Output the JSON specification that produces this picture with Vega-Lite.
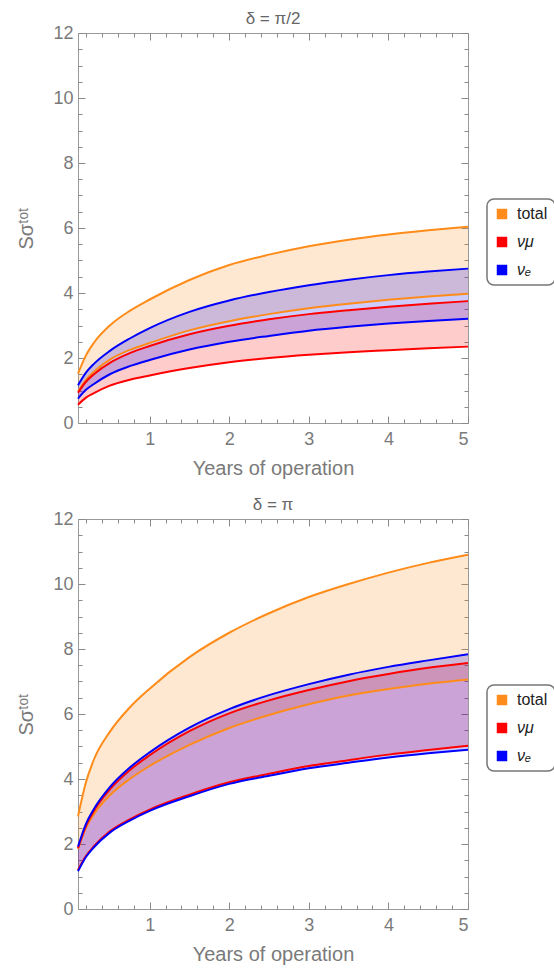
{
"$schema": "https://vega.github.io/schema/vega-lite/v6.json",
"padding": {"left": 16, "top": 9, "right": 0, "bottom": 0},
"background": "white",
"datasets": {"d": [
{"p":"a","s":"total","t":0.1,"lo":0.97,"hi":1.52},{"p":"a","s":"total","t":0.2,"lo":1.33,"hi":2.08},{"p":"a","s":"total","t":0.3,"lo":1.58,"hi":2.47},{"p":"a","s":"total","t":0.5,"lo":1.95,"hi":3.0},{"p":"a","s":"total","t":0.75,"lo":2.25,"hi":3.45},{"p":"a","s":"total","t":1,"lo":2.46,"hi":3.8},{"p":"a","s":"total","t":1.5,"lo":2.85,"hi":4.4},{"p":"a","s":"total","t":2,"lo":3.13,"hi":4.86},{"p":"a","s":"total","t":2.5,"lo":3.35,"hi":5.18},{"p":"a","s":"total","t":3,"lo":3.53,"hi":5.44},{"p":"a","s":"total","t":3.5,"lo":3.67,"hi":5.64},{"p":"a","s":"total","t":4,"lo":3.79,"hi":5.8},{"p":"a","s":"total","t":4.5,"lo":3.89,"hi":5.93},{"p":"a","s":"total","t":5,"lo":3.98,"hi":6.04},
{"p":"a","s":"νμ","t":0.1,"lo":0.56,"hi":0.93},{"p":"a","s":"νμ","t":0.2,"lo":0.78,"hi":1.27},{"p":"a","s":"νμ","t":0.3,"lo":0.92,"hi":1.5},{"p":"a","s":"νμ","t":0.5,"lo":1.15,"hi":1.85},{"p":"a","s":"νμ","t":0.75,"lo":1.33,"hi":2.15},{"p":"a","s":"νμ","t":1,"lo":1.46,"hi":2.37},{"p":"a","s":"νμ","t":1.5,"lo":1.69,"hi":2.73},{"p":"a","s":"νμ","t":2,"lo":1.87,"hi":2.99},{"p":"a","s":"νμ","t":2.5,"lo":2.0,"hi":3.19},{"p":"a","s":"νμ","t":3,"lo":2.1,"hi":3.35},{"p":"a","s":"νμ","t":3.5,"lo":2.18,"hi":3.47},{"p":"a","s":"νμ","t":4,"lo":2.24,"hi":3.58},{"p":"a","s":"νμ","t":4.5,"lo":2.3,"hi":3.67},{"p":"a","s":"νμ","t":5,"lo":2.35,"hi":3.75},
{"p":"a","s":"νₑ","t":0.1,"lo":0.75,"hi":1.16},{"p":"a","s":"νₑ","t":0.2,"lo":1.02,"hi":1.55},{"p":"a","s":"νₑ","t":0.3,"lo":1.2,"hi":1.82},{"p":"a","s":"νₑ","t":0.5,"lo":1.5,"hi":2.22},{"p":"a","s":"νₑ","t":0.75,"lo":1.75,"hi":2.6},{"p":"a","s":"νₑ","t":1,"lo":1.94,"hi":2.92},{"p":"a","s":"νₑ","t":1.5,"lo":2.26,"hi":3.42},{"p":"a","s":"νₑ","t":2,"lo":2.5,"hi":3.77},{"p":"a","s":"νₑ","t":2.5,"lo":2.68,"hi":4.03},{"p":"a","s":"νₑ","t":3,"lo":2.84,"hi":4.24},{"p":"a","s":"νₑ","t":3.5,"lo":2.96,"hi":4.41},{"p":"a","s":"νₑ","t":4,"lo":3.06,"hi":4.55},{"p":"a","s":"νₑ","t":4.5,"lo":3.14,"hi":4.66},{"p":"a","s":"νₑ","t":5,"lo":3.21,"hi":4.75},
{"p":"b","s":"total","t":0.1,"lo":1.85,"hi":2.85},{"p":"b","s":"total","t":0.2,"lo":2.5,"hi":3.9},{"p":"b","s":"total","t":0.3,"lo":2.92,"hi":4.6},{"p":"b","s":"total","t":0.5,"lo":3.5,"hi":5.45},{"p":"b","s":"total","t":0.75,"lo":4.0,"hi":6.2},{"p":"b","s":"total","t":1,"lo":4.4,"hi":6.78},{"p":"b","s":"total","t":1.5,"lo":5.05,"hi":7.75},{"p":"b","s":"total","t":2,"lo":5.57,"hi":8.5},{"p":"b","s":"total","t":2.5,"lo":5.97,"hi":9.1},{"p":"b","s":"total","t":3,"lo":6.3,"hi":9.6},{"p":"b","s":"total","t":3.5,"lo":6.57,"hi":10.0},{"p":"b","s":"total","t":4,"lo":6.77,"hi":10.35},{"p":"b","s":"total","t":4.5,"lo":6.93,"hi":10.65},{"p":"b","s":"total","t":5,"lo":7.06,"hi":10.9},
{"p":"b","s":"νμ","t":0.1,"lo":1.2,"hi":1.87},{"p":"b","s":"νμ","t":0.2,"lo":1.63,"hi":2.55},{"p":"b","s":"νμ","t":0.3,"lo":1.93,"hi":3.02},{"p":"b","s":"νμ","t":0.5,"lo":2.39,"hi":3.68},{"p":"b","s":"νμ","t":0.75,"lo":2.76,"hi":4.27},{"p":"b","s":"νμ","t":1,"lo":3.06,"hi":4.73},{"p":"b","s":"νμ","t":1.5,"lo":3.52,"hi":5.47},{"p":"b","s":"νμ","t":2,"lo":3.9,"hi":6.02},{"p":"b","s":"νμ","t":2.5,"lo":4.16,"hi":6.42},{"p":"b","s":"νμ","t":3,"lo":4.4,"hi":6.74},{"p":"b","s":"νμ","t":3.5,"lo":4.58,"hi":7.01},{"p":"b","s":"νμ","t":4,"lo":4.75,"hi":7.23},{"p":"b","s":"νμ","t":4.5,"lo":4.89,"hi":7.42},{"p":"b","s":"νμ","t":5,"lo":5.02,"hi":7.57},
{"p":"b","s":"νₑ","t":0.1,"lo":1.16,"hi":1.92},{"p":"b","s":"νₑ","t":0.2,"lo":1.6,"hi":2.62},{"p":"b","s":"νₑ","t":0.3,"lo":1.9,"hi":3.08},{"p":"b","s":"νₑ","t":0.5,"lo":2.35,"hi":3.75},{"p":"b","s":"νₑ","t":0.75,"lo":2.72,"hi":4.35},{"p":"b","s":"νₑ","t":1,"lo":3.02,"hi":4.82},{"p":"b","s":"νₑ","t":1.5,"lo":3.47,"hi":5.58},{"p":"b","s":"νₑ","t":2,"lo":3.85,"hi":6.15},{"p":"b","s":"νₑ","t":2.5,"lo":4.1,"hi":6.58},{"p":"b","s":"νₑ","t":3,"lo":4.33,"hi":6.92},{"p":"b","s":"νₑ","t":3.5,"lo":4.5,"hi":7.21},{"p":"b","s":"νₑ","t":4,"lo":4.66,"hi":7.45},{"p":"b","s":"νₑ","t":4.5,"lo":4.79,"hi":7.65},{"p":"b","s":"νₑ","t":5,"lo":4.9,"hi":7.84}
]},
"config": {
  "font": "Liberation Sans",
  "view": {"stroke": "#9a9a9a", "strokeWidth": 1},
  "axis": {"grid": false, "domain": false, "labelFont": "Liberation Sans", "labelFontSize": 18, "labelColor": "#7a7a7a", "titleFont": "Liberation Sans", "titleFontSize": 20, "titleFontWeight": "normal", "titleColor": "#7a7a7a", "tickColor": "#8a8a8a", "tickWidth": 1},
  "title": {"font": "Liberation Sans", "fontSize": 17, "fontWeight": "normal", "color": "#666666", "offset": -4},
  "legend": {"orient": "none", "legendX": 409, "legendY": 166, "strokeColor": "#777777", "strokeWidth": 1.5, "cornerRadius": 7, "fillColor": "white", "padding": 7, "symbolType": "square", "symbolSize": 110, "symbolOpacity": 1, "symbolStrokeWidth": 0, "labelFont": "Liberation Sans", "labelFontSize": 16, "labelColor": "#222222", "labelOffset": 7, "rowPadding": 12, "labelFontStyle": {"expr": "datum.label == 'total' ? 'normal' : 'italic'"}}
},
"vconcat": [
{
  "title": {"text": "δ = π/2"},
  "width": 390, "height": 390,
  "data": {"name": "d"},
  "transform": [{"filter": "datum.p == 'a'"}],
  "layer": [
    {"mark": {"type": "area", "interpolate": "monotone", "opacity": 0.2},
     "encoding": {
       "x": {"field": "t", "type": "quantitative", "scale": {"domain": [0.1, 5], "nice": false, "zero": false}, "axis": {"orient": "bottom", "values": [1,2,3,4,5], "ticks": false, "labelPadding": 7, "title": "Years of operation", "titlePadding": 10}},
       "y": {"field": "lo", "type": "quantitative", "scale": {"domain": [0, 12], "nice": false}, "axis": {"orient": "left", "values": [0,2,4,6,8,10,12], "ticks": false, "labelPadding": 5, "title": "Sσᵗᵒᵗ", "titlePadding": 16}},
       "y2": {"field": "hi"},
       "color": {"field": "s", "type": "nominal", "scale": {"domain": ["total","νμ","νₑ"], "range": ["#ff8c1a","#ff0000","#0000ff"]}, "legend": {"title": null}}
     }},
    {"mark": {"type": "line", "interpolate": "monotone", "strokeWidth": 2},
     "encoding": {
       "x": {"field": "t", "type": "quantitative", "axis": {"orient": "bottom", "values": [0.2,0.4,0.6,0.8,1.2,1.4,1.6,1.8,2.2,2.4,2.6,2.8,3.2,3.4,3.6,3.8,4.2,4.4,4.6,4.8], "labels": false, "tickSize": -4, "title": null}},
       "y": {"field": "lo", "type": "quantitative", "axis": {"orient": "left", "values": [0.5,1,1.5,2.5,3,3.5,4.5,5,5.5,6.5,7,7.5,8.5,9,9.5,10.5,11,11.5], "labels": false, "tickSize": -4, "title": null}},
       "color": {"field": "s", "type": "nominal", "legend": null}
     }},
    {"mark": {"type": "line", "interpolate": "monotone", "strokeWidth": 2},
     "encoding": {
       "x": {"field": "t", "type": "quantitative", "axis": {"orient": "top", "values": [1,2,3,4,5], "labels": false, "tickSize": -7, "title": null}},
       "y": {"field": "hi", "type": "quantitative", "axis": {"orient": "right", "values": [0,2,4,6,8,10,12], "labels": false, "tickSize": -7, "title": null}},
       "color": {"field": "s", "type": "nominal", "legend": null}
     }},
    {"mark": {"type": "point", "opacity": 0},
     "encoding": {
       "x": {"field": "t", "type": "quantitative", "axis": {"orient": "top", "values": [0.2,0.4,0.6,0.8,1.2,1.4,1.6,1.8,2.2,2.4,2.6,2.8,3.2,3.4,3.6,3.8,4.2,4.4,4.6,4.8], "labels": false, "tickSize": -4, "title": null}},
       "y": {"field": "hi", "type": "quantitative", "axis": {"orient": "right", "values": [0.5,1,1.5,2.5,3,3.5,4.5,5,5.5,6.5,7,7.5,8.5,9,9.5,10.5,11,11.5], "labels": false, "tickSize": -4, "title": null}}
     }},
    {"mark": {"type": "point", "opacity": 0},
     "encoding": {
       "x": {"field": "t", "type": "quantitative", "axis": {"orient": "bottom", "values": [1,2,3,4,5], "labels": false, "tickSize": -7, "title": null}},
       "y": {"field": "hi", "type": "quantitative", "axis": {"orient": "left", "values": [0,2,4,6,8,10,12], "labels": false, "tickSize": -7, "title": null}}
     }}
  ],
  "resolve": {"axis": {"x": "independent", "y": "independent"}}
},
{
  "title": {"text": "δ = π"},
  "width": 390, "height": 390,
  "data": {"name": "d"},
  "transform": [{"filter": "datum.p == 'b'"}],
  "layer": [
    {"mark": {"type": "area", "interpolate": "monotone", "opacity": 0.2},
     "encoding": {
       "x": {"field": "t", "type": "quantitative", "scale": {"domain": [0.1, 5], "nice": false, "zero": false}, "axis": {"orient": "bottom", "values": [1,2,3,4,5], "ticks": false, "labelPadding": 7, "title": "Years of operation", "titlePadding": 10}},
       "y": {"field": "lo", "type": "quantitative", "scale": {"domain": [0, 12], "nice": false}, "axis": {"orient": "left", "values": [0,2,4,6,8,10,12], "ticks": false, "labelPadding": 5, "title": "Sσᵗᵒᵗ", "titlePadding": 16}},
       "y2": {"field": "hi"},
       "color": {"field": "s", "type": "nominal", "scale": {"domain": ["total","νμ","νₑ"], "range": ["#ff8c1a","#ff0000","#0000ff"]}, "legend": {"title": null}}
     }},
    {"mark": {"type": "line", "interpolate": "monotone", "strokeWidth": 2},
     "encoding": {
       "x": {"field": "t", "type": "quantitative", "axis": {"orient": "bottom", "values": [0.2,0.4,0.6,0.8,1.2,1.4,1.6,1.8,2.2,2.4,2.6,2.8,3.2,3.4,3.6,3.8,4.2,4.4,4.6,4.8], "labels": false, "tickSize": -4, "title": null}},
       "y": {"field": "lo", "type": "quantitative", "axis": {"orient": "left", "values": [0.5,1,1.5,2.5,3,3.5,4.5,5,5.5,6.5,7,7.5,8.5,9,9.5,10.5,11,11.5], "labels": false, "tickSize": -4, "title": null}},
       "color": {"field": "s", "type": "nominal", "legend": null}
     }},
    {"mark": {"type": "line", "interpolate": "monotone", "strokeWidth": 2},
     "encoding": {
       "x": {"field": "t", "type": "quantitative", "axis": {"orient": "top", "values": [1,2,3,4,5], "labels": false, "tickSize": -7, "title": null}},
       "y": {"field": "hi", "type": "quantitative", "axis": {"orient": "right", "values": [0,2,4,6,8,10,12], "labels": false, "tickSize": -7, "title": null}},
       "color": {"field": "s", "type": "nominal", "legend": null}
     }},
    {"mark": {"type": "point", "opacity": 0},
     "encoding": {
       "x": {"field": "t", "type": "quantitative", "axis": {"orient": "top", "values": [0.2,0.4,0.6,0.8,1.2,1.4,1.6,1.8,2.2,2.4,2.6,2.8,3.2,3.4,3.6,3.8,4.2,4.4,4.6,4.8], "labels": false, "tickSize": -4, "title": null}},
       "y": {"field": "hi", "type": "quantitative", "axis": {"orient": "right", "values": [0.5,1,1.5,2.5,3,3.5,4.5,5,5.5,6.5,7,7.5,8.5,9,9.5,10.5,11,11.5], "labels": false, "tickSize": -4, "title": null}}
     }},
    {"mark": {"type": "point", "opacity": 0},
     "encoding": {
       "x": {"field": "t", "type": "quantitative", "axis": {"orient": "bottom", "values": [1,2,3,4,5], "labels": false, "tickSize": -7, "title": null}},
       "y": {"field": "hi", "type": "quantitative", "axis": {"orient": "left", "values": [0,2,4,6,8,10,12], "labels": false, "tickSize": -7, "title": null}}
     }}
  ],
  "resolve": {"axis": {"x": "independent", "y": "independent"}}
}
],
"spacing": 16,
"resolve": {"scale": {"color": "independent"}, "legend": {"color": "independent"}}
}
